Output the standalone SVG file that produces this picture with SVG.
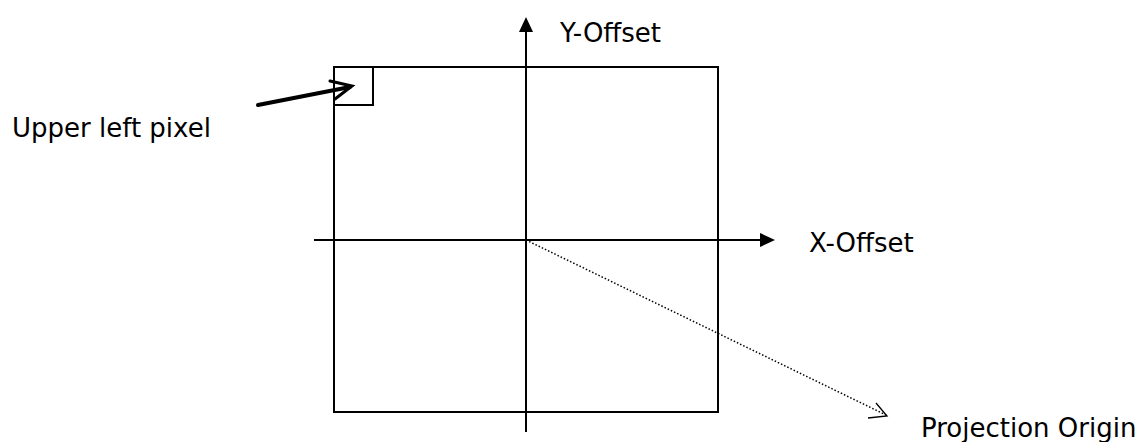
<svg xmlns="http://www.w3.org/2000/svg" width="1146" height="442" viewBox="0 0 1146 442">
<style>
text{font-family:"DejaVu Sans","Liberation Sans",sans-serif;font-size:26px;fill:#000}
.ln{stroke:#000;stroke-width:2;fill:none}
</style>
<rect width="1146" height="442" fill="#fff"/>
<g id="frame">
<rect x="334" y="67" width="384" height="345" class="ln"/>
</g>
<g id="pixel">
<rect x="334" y="67" width="39" height="38" class="ln"/>
</g>
<g id="connectors">
<line x1="526" y1="432" x2="526" y2="32" class="ln"/>
<path d="M519,32 L526,17 L533,32 Z" fill="#000"/>
<line x1="314" y1="240" x2="760" y2="240" class="ln"/>
<path d="M760,233 L775,240 L760,247 Z" fill="#000"/>
<line x1="258" y1="105" x2="350" y2="87" stroke="#000" stroke-width="4" stroke-linecap="round"/>
<path d="M330,81 L352,86 L335,99" fill="none" stroke="#000" stroke-width="3" stroke-linecap="round" stroke-linejoin="miter"/>
<line x1="526" y1="240" x2="886" y2="415" stroke="#000" stroke-width="1.5" stroke-dasharray="1.5,2"/>
<path d="M876,403 L887,416 L868,418" fill="none" stroke="#000" stroke-width="1.3"/>
</g>
<g id="labels">
<text x="560" y="42">Y-Offset</text>
<text x="809" y="252">X-Offset</text>
<text x="921" y="437">Projection Origin</text>
<text x="12" y="137">Upper left pixel</text>
</g>
</svg>
